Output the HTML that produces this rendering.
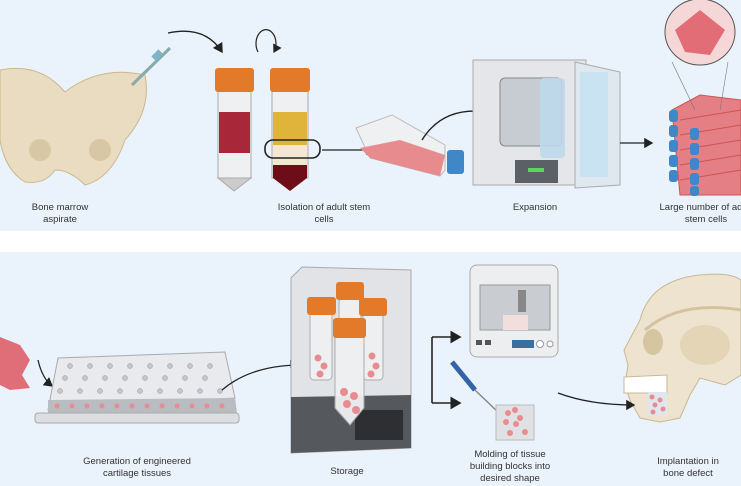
<!DOCTYPE html>
<html><head><style>
body{margin:0;width:741px;height:486px;overflow:hidden;background:#fff;font-family:"Liberation Sans",sans-serif}
svg{display:block}
text{font-family:"Liberation Sans",sans-serif;font-size:9.5px;fill:#333;text-anchor:middle}
</style></head><body>
<svg width="741" height="486" viewBox="0 0 741 486">
<defs><marker id="a" markerWidth="8" markerHeight="8" refX="6" refY="4" orient="auto"><path d="M0,0L7,4L0,8z" fill="#222"/></marker></defs>
<rect x="0" y="0" width="741" height="231" fill="#eaf2fb"/>
<rect x="0" y="252" width="741" height="234" fill="#eaf2fb"/>
<!-- pelvis -->
<path d="M0,70 Q40,62 65,92 Q100,65 145,75 Q152,110 125,140 Q112,178 85,185 Q70,170 55,170 Q45,185 25,182 Q5,170 0,140z" fill="#e9dcc1" stroke="#cbb890"/>
<circle cx="40" cy="150" r="11" fill="#d8c7a4"/><circle cx="100" cy="150" r="11" fill="#d8c7a4"/>
<line x1="132" y1="85" x2="170" y2="48" stroke="#8aa" stroke-width="3"/>
<rect x="152" y="52" width="10" height="7" fill="#7fb3c6" transform="rotate(-45 157 55)"/>
<path d="M168,33 Q205,25 222,52" fill="none" stroke="#222" stroke-width="1.4" marker-end="url(#a)"/>
<path d="M258,52 A10,14 0 1 1 274,52" fill="none" stroke="#222" stroke-width="1.2" marker-end="url(#a)"/>
<!-- tubes -->
<rect x="218" y="88" width="33" height="90" fill="#eef0f2" stroke="#aaa"/>
<path d="M218,178 L234,191 L251,178z" fill="#ccc" stroke="#aaa"/>
<rect x="219" y="112" width="31" height="41" fill="#a8283a"/>
<rect x="215" y="68" width="39" height="24" rx="3" fill="#e37a2a"/>
<rect x="272" y="88" width="36" height="90" fill="#eef0f2" stroke="#aaa"/>
<rect x="273" y="112" width="34" height="33" fill="#e0b43a"/>
<rect x="273" y="145" width="34" height="20" fill="#f5e6d2"/>
<rect x="273" y="165" width="34" height="13" fill="#6d0d18"/>
<path d="M273,178 L290,191 L307,178z" fill="#6d0d18"/>
<rect x="270" y="68" width="40" height="24" rx="3" fill="#e37a2a"/>
<rect x="265" y="140" width="55" height="18" rx="8" fill="none" stroke="#222" stroke-width="1.6"/>
<line x1="322" y1="150" x2="374" y2="150" stroke="#222" stroke-width="1.3" marker-end="url(#a)"/>
<!-- flask -->
<path d="M356,128 L392,115 L445,145 L445,170 L440,176 L370,158z" fill="#eef0f2" stroke="#bbb"/>
<path d="M360,148 L400,140 L445,155 L440,176 L370,158z" fill="#e78b8f"/>
<rect x="447" y="150" width="17" height="24" rx="3" fill="#3f87c7"/>
<path d="M422,140 Q450,95 518,120" fill="none" stroke="#222" stroke-width="1.4" marker-end="url(#a)"/>
<!-- incubator -->
<rect x="473" y="60" width="113" height="125" fill="#e4e6e9" stroke="#aaa"/>
<rect x="500" y="78" width="62" height="68" rx="5" fill="#c6ccd2" stroke="#888"/>
<rect x="540" y="78" width="25" height="80" rx="4" fill="#bcd9ec" opacity=".9"/>
<path d="M575,62 L620,72 L620,185 L575,188z" fill="#dfe8ee" stroke="#aaa"/>
<rect x="580" y="72" width="28" height="105" fill="#c9e3f2"/>
<rect x="515" y="160" width="43" height="23" fill="#5b6066"/>
<rect x="528" y="168" width="16" height="4" fill="#5bd45a"/>
<line x1="620" y1="143" x2="652" y2="143" stroke="#222" stroke-width="1.3" marker-end="url(#a)"/>
<!-- stack -->
<path d="M672,110 L700,95 L741,100 L741,195 L680,195z" fill="#e47f85" stroke="#c55"/>
<g stroke="#c55" fill="none"><path d="M680,120 L741,110"/><path d="M680,135 L741,125"/><path d="M680,150 L741,140"/><path d="M680,165 L741,155"/><path d="M680,180 L741,170"/></g>
<g fill="#3f87c7"><rect x="669" y="110" width="9" height="12" rx="3"/><rect x="669" y="125" width="9" height="12" rx="3"/><rect x="669" y="140" width="9" height="12" rx="3"/><rect x="669" y="155" width="9" height="12" rx="3"/><rect x="669" y="170" width="9" height="12" rx="3"/><rect x="690" y="128" width="9" height="12" rx="3"/><rect x="690" y="143" width="9" height="12" rx="3"/><rect x="690" y="158" width="9" height="12" rx="3"/><rect x="690" y="173" width="9" height="12" rx="3"/><rect x="690" y="186" width="9" height="10" rx="3"/></g>
<line x1="672" y1="62" x2="695" y2="110" stroke="#777" stroke-width=".6"/><line x1="728" y1="62" x2="720" y2="110" stroke="#777" stroke-width=".6"/>
<ellipse cx="700" cy="32" rx="35" ry="33" fill="#f6d7d8" stroke="#555"/>
<path d="M675,30 L700,10 L725,30 L710,55 L685,52z" fill="#e26d77"/>
<text x="60" y="210">Bone marrow</text><text x="60" y="222">aspirate</text>
<text x="324" y="210">Isolation of adult stem</text><text x="324" y="222">cells</text>
<text x="535" y="210">Expansion</text>
<text x="706" y="210">Large number of adult</text><text x="706" y="222">stem cells</text>
<!-- bottom: cells -->
<path d="M0,337 L20,345 L30,360 L22,375 L30,388 L10,390 L0,385z" fill="#df6e78"/>
<path d="M38,360 Q42,378 52,386" fill="none" stroke="#222" stroke-width="1.3" marker-end="url(#a)"/>
<!-- plate -->
<path d="M58,358 L225,352 L235,398 L48,410z" fill="#e8eaed" stroke="#aaa"/>
<path d="M48,400 L235,398 L237,413 L48,415z" fill="#b9bcc1"/>
<rect x="35" y="413" width="204" height="10" rx="3" fill="#dcdee1" stroke="#aaa"/>
<g fill="#c3c7cc" stroke="#999" stroke-width=".5">
<circle cx="70" cy="366" r="2.5"/><circle cx="90" cy="366" r="2.5"/><circle cx="110" cy="366" r="2.5"/><circle cx="130" cy="366" r="2.5"/><circle cx="150" cy="366" r="2.5"/><circle cx="170" cy="366" r="2.5"/><circle cx="190" cy="366" r="2.5"/><circle cx="210" cy="366" r="2.5"/>
<circle cx="65" cy="378" r="2.5"/><circle cx="85" cy="378" r="2.5"/><circle cx="105" cy="378" r="2.5"/><circle cx="125" cy="378" r="2.5"/><circle cx="145" cy="378" r="2.5"/><circle cx="165" cy="378" r="2.5"/><circle cx="185" cy="378" r="2.5"/><circle cx="205" cy="378" r="2.5"/>
<circle cx="60" cy="391" r="2.5"/><circle cx="80" cy="391" r="2.5"/><circle cx="100" cy="391" r="2.5"/><circle cx="120" cy="391" r="2.5"/><circle cx="140" cy="391" r="2.5"/><circle cx="160" cy="391" r="2.5"/><circle cx="180" cy="391" r="2.5"/><circle cx="200" cy="391" r="2.5"/><circle cx="220" cy="391" r="2.5"/></g>
<g fill="#e98c90"><circle cx="57" cy="406" r="2.5"/><circle cx="72" cy="406" r="2.5"/><circle cx="87" cy="406" r="2.5"/><circle cx="102" cy="406" r="2.5"/><circle cx="117" cy="406" r="2.5"/><circle cx="132" cy="406" r="2.5"/><circle cx="147" cy="406" r="2.5"/><circle cx="162" cy="406" r="2.5"/><circle cx="177" cy="406" r="2.5"/><circle cx="192" cy="406" r="2.5"/><circle cx="207" cy="406" r="2.5"/><circle cx="222" cy="406" r="2.5"/></g>
<path d="M222,390 Q250,366 298,365" fill="none" stroke="#222" stroke-width="1.3" marker-end="url(#a)"/>
<text x="137" y="464">Generation of engineered</text><text x="137" y="476">cartilage tissues</text>
<!-- freezer -->
<path d="M291,278 L302,267 L411,270 L411,448 L291,453z" fill="#e1e3e6" stroke="#aaa"/>
<path d="M291,397 L411,395 L411,448 L291,453z" fill="#55595e"/>
<rect x="355" y="410" width="48" height="30" fill="#2d2f33"/>
<g fill="#eef0f2" stroke="#aaa" opacity="0.95"><rect x="310" y="312" width="22" height="68" rx="4"/><rect x="339" y="298" width="22" height="60" rx="4"/><rect x="363" y="312" width="20" height="68" rx="4"/><path d="M335,336 L364,336 L364,408 L350,425 L335,408z"/></g>
<g fill="#e37a2a"><rect x="307" y="297" width="29" height="18" rx="3"/><rect x="336" y="282" width="28" height="18" rx="3"/><rect x="359" y="298" width="28" height="18" rx="3"/><rect x="333" y="318" width="33" height="20" rx="3"/></g>
<g fill="#e98c90"><circle cx="344" cy="392" r="4"/><circle cx="354" cy="396" r="4"/><circle cx="347" cy="404" r="4"/><circle cx="356" cy="410" r="4"/><circle cx="318" cy="358" r="3.5"/><circle cx="324" cy="366" r="3.5"/><circle cx="320" cy="374" r="3.5"/><circle cx="372" cy="356" r="3.5"/><circle cx="376" cy="366" r="3.5"/><circle cx="371" cy="374" r="3.5"/></g>
<text x="347" y="474">Storage</text>
<!-- bracket -->
<line x1="432" y1="337" x2="432" y2="403" stroke="#222" stroke-width="1.6"/>
<line x1="432" y1="337" x2="460" y2="337" stroke="#222" stroke-width="1.6" marker-end="url(#a)"/>
<line x1="432" y1="403" x2="460" y2="403" stroke="#222" stroke-width="1.6" marker-end="url(#a)"/>
<!-- printer -->
<rect x="470" y="265" width="88" height="92" rx="7" fill="#eceef0" stroke="#aaa"/>
<rect x="480" y="285" width="70" height="45" fill="#c9cdd2" stroke="#999"/>
<rect x="503" y="315" width="25" height="15" fill="#f3dede"/>
<rect x="518" y="290" width="8" height="22" fill="#888"/>
<rect x="512" y="340" width="22" height="8" fill="#3b6fa0"/>
<circle cx="540" cy="344" r="3.5" fill="#fff" stroke="#999"/><circle cx="550" cy="344" r="3" fill="#fff" stroke="#999"/>
<rect x="476" y="340" width="6" height="5" fill="#555"/><rect x="485" y="340" width="6" height="5" fill="#555"/>
<!-- pipette -->
<line x1="452" y1="362" x2="475" y2="390" stroke="#3563a8" stroke-width="5"/>
<line x1="475" y1="390" x2="500" y2="414" stroke="#888" stroke-width="1.5"/>
<rect x="496" y="405" width="38" height="35" fill="#dfe1e4" stroke="#bbb"/>
<g fill="#e98c90"><circle cx="508" cy="413" r="3"/><circle cx="515" cy="410" r="3"/><circle cx="520" cy="418" r="3"/><circle cx="506" cy="422" r="3"/><circle cx="516" cy="424" r="3"/><circle cx="510" cy="433" r="3"/><circle cx="525" cy="432" r="3"/></g>
<text x="510" y="457">Molding of tissue</text><text x="510" y="469">building blocks into</text><text x="510" y="481">desired shape</text>
<!-- skull -->
<path d="M640,320 Q650,280 700,275 Q730,272 741,280 L741,375 L725,385 L700,378 L690,395 L680,418 L660,422 L640,418 L630,400 L625,385 L628,365 L624,350 L632,335z" fill="#ede3cf" stroke="#c9b890"/>
<path d="M645,330 Q680,300 741,310" fill="none" stroke="#d4c39f" stroke-width="3"/>
<ellipse cx="653" cy="342" rx="10" ry="13" fill="#d6c5a1"/>
<ellipse cx="705" cy="345" rx="25" ry="20" fill="#e3d5b6"/>
<path d="M624,377 L667,375 L667,393 L624,393z" fill="#fff" stroke="#c9b890"/>
<rect x="648" y="392" width="19" height="23" fill="#dfe6ee"/>
<g fill="#e98c90"><circle cx="652" cy="397" r="2.5"/><circle cx="660" cy="400" r="2.5"/><circle cx="655" cy="405" r="2.5"/><circle cx="663" cy="409" r="2.5"/><circle cx="653" cy="412" r="2.5"/></g>
<path d="M558,393 Q590,405 634,405" fill="none" stroke="#222" stroke-width="1.3" marker-end="url(#a)"/>
<text x="688" y="464">Implantation in</text><text x="688" y="476">bone defect</text>
</svg>
</body></html>
